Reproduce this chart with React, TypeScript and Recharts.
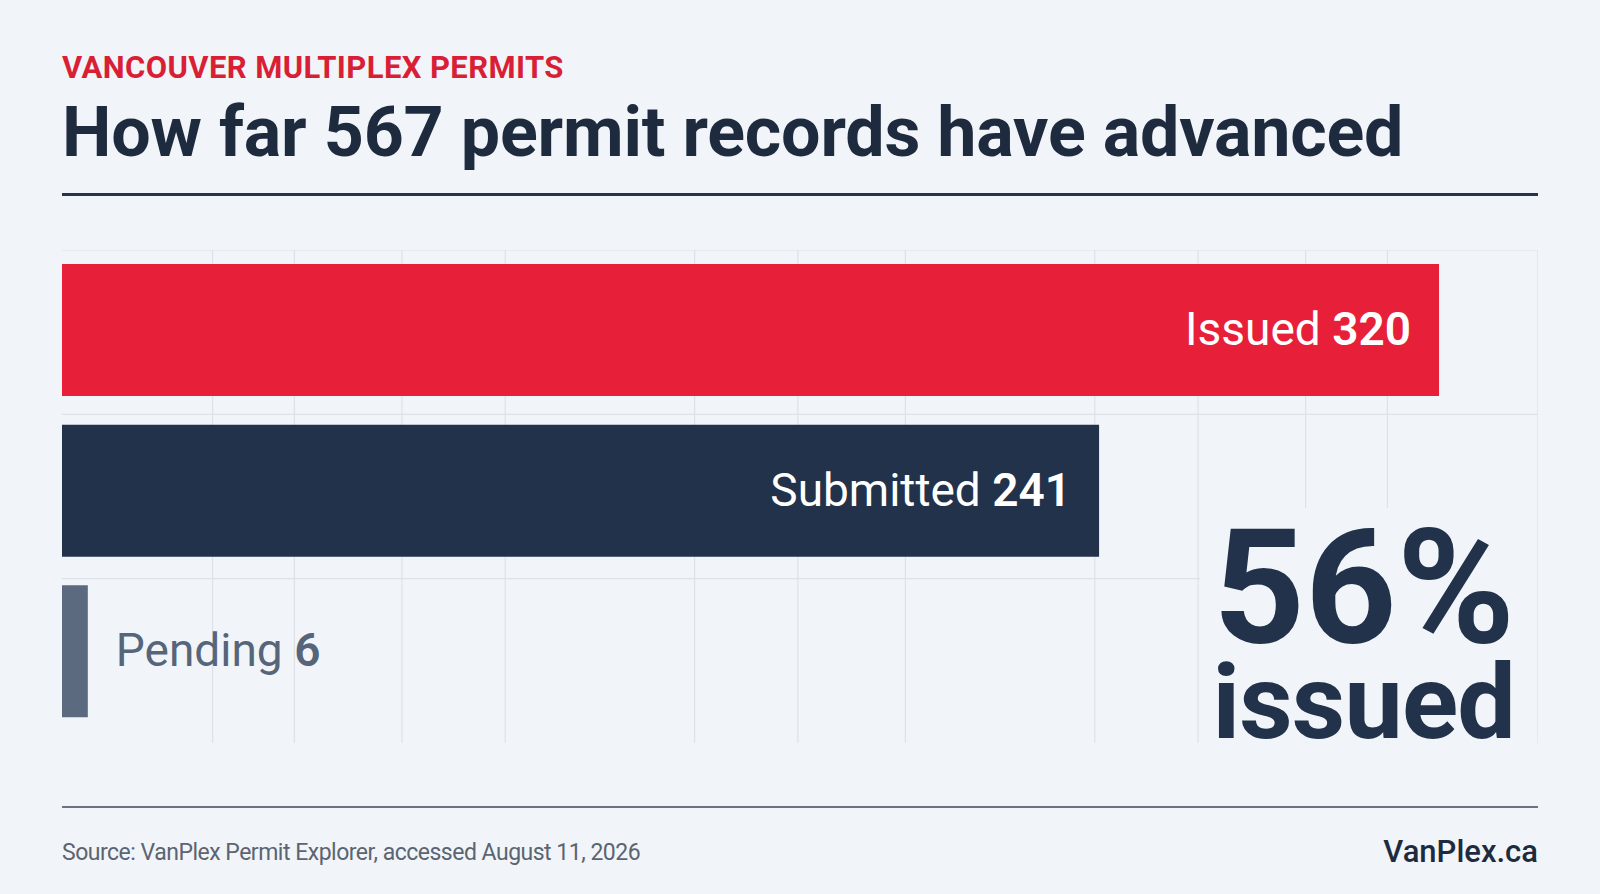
import React from 'react';
import { BarChart, Bar, XAxis, YAxis, CartesianGrid, Cell, LabelList } from 'recharts';

const categories = ['Issued', 'Submitted', 'Pending'];
const values = [320, 241, 6];
const stageRank = [1, 2, 3];
const barColors = ['#e81f38', '#22324a', '#5c6a80'];
const gridTicks = [0, 35, 54, 79, 103, 147, 171, 196, 240, 264, 289, 308, 343];
const bandEdges = [1, 2, 3];
const issuedShare = '56%';

const data = categories.map((name, i) => ({ name, value: values[i], rank: stageRank[i] }));

const FONT = 'Roboto, "Noto Sans", sans-serif';

const renderLabel = (props: any) => {
  const { x, y, width, height, index } = props;
  const name = categories[index];
  const val = values[index];
  const cy = y + height / 2 + 15;
  if (width > 300) {
    return (
      <text x={x + width - 28} y={cy} textAnchor="end" fill="#ffffff" fontFamily={FONT} fontSize={46}>
        <tspan fontWeight={400}>{name} </tspan>
        <tspan fontWeight={600}>{val}</tspan>
      </text>
    );
  }
  return (
    <text x={x + width + 28} y={cy} textAnchor="start" fill="#56657a" fontFamily={FONT} fontSize={46}>
      <tspan fontWeight={400}>{name} </tspan>
      <tspan fontWeight={600}>{val}</tspan>
    </text>
  );
};

export default function App() {
  return (
    <div style={{ position: 'absolute', left: 0, top: 0, width: 1600, height: 894, background: '#f1f5f9', overflow: 'hidden' }}>
      <div style={{ position: 'absolute', left: 62, top: 250 }}>
        <BarChart width={1476} height={493} layout="vertical" data={data} margin={{ top: 0, right: 0, bottom: 0, left: 0 }}>
          <CartesianGrid
            yAxisId="edges"
            stroke="#dde2e8"
            strokeWidth={1.2}
            horizontalValues={bandEdges}
            verticalValues={gridTicks}
          />
          <XAxis type="number" domain={[0, 343]} ticks={gridTicks} hide />
          <YAxis yAxisId="cat" type="category" dataKey="name" hide padding={{ top: 0, bottom: 11 }} />
          <YAxis yAxisId="edges" type="number" dataKey="rank" domain={[0, 3]} ticks={bandEdges} reversed hide />
          <Bar yAxisId="cat" dataKey="value" barSize={132} isAnimationActive={false}>
            {data.map((d, i) => (
              <Cell key={d.name} fill={barColors[i]} />
            ))}
            <LabelList dataKey="value" content={renderLabel} />
          </Bar>
        </BarChart>
      </div>
      <svg width={1600} height={894} style={{ position: 'absolute', left: 0, top: 0, pointerEvents: 'none' }}>
        <text x={62} y={78} fill="#d91f35" fontFamily={FONT} fontWeight={700} fontSize={31} letterSpacing={0.4}>VANCOUVER MULTIPLEX PERMITS</text>
        <text x={62} y={156} fill="#1e2b3e" fontFamily={FONT} fontWeight={700} fontSize={70} letterSpacing={-0.2}>How far 567 permit records have advanced</text>
        <rect x={62} y={193} width={1476} height={3} fill="#26354b" />
        <rect x={1200} y={508} width={337} height={234} fill="#f1f5f9" />
        <text x={1515} y={642} textAnchor="end" fill="#22324a" fontFamily={FONT} fontWeight={700} fontSize={160}>{issuedShare}</text>
        <text x={1515} y={738} textAnchor="end" fill="#22324a" fontFamily={FONT} fontWeight={700} fontSize={104} letterSpacing={-0.8}>issued</text>
        <rect x={62} y={806} width={1476} height={2} fill="#6b7280" />
        <text x={62} y={860} fill="#5b6470" fontFamily={FONT} fontSize={23} letterSpacing={-0.5}>Source: VanPlex Permit Explorer, accessed August 11, 2026</text>
        <text x={1538} y={862} textAnchor="end" fill="#1e2b3e" fontFamily={FONT} fontWeight={500} fontSize={31}>VanPlex.ca</text>
      </svg>
    </div>
  );
}
